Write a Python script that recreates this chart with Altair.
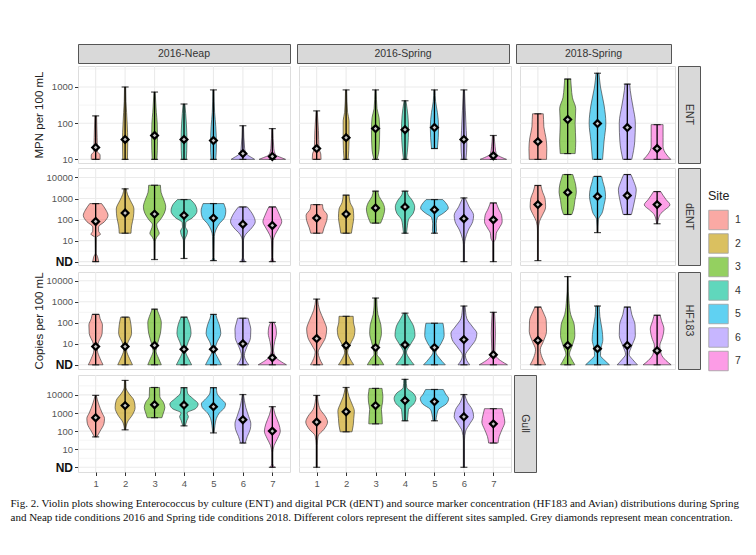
import altair as alt
import pandas as pd

FONT = "Liberation Sans"
PERIODS = ["2016-Neap", "2016-Spring", "2018-Spring"]
MARKERS = ["ENT", "dENT", "HF183", "Gull"]
SITES_2016 = ["1", "2", "3", "4", "5", "6", "7"]
SITES_2018 = ["1", "3", "5", "6", "7"]
SITE_COLORS = ["#F8766D", "#C49A00", "#53B400", "#00C094", "#00B6EB", "#A58AFF", "#FB61D7"]

# y values are log10(concentration); 0 = ND (not detected)
ENT_TICKS = [1, 2, 3]
COPIES_TICKS = [0, 1, 2, 3, 4]

# Violin outlines: (log10 concentration, half width in site slots)
ENT_NEAP = [
    [(1.0, 0.15), (1.12, 0.15), (1.22, 0.06), (1.6, 0.05), (2.2, 0.03)],
    [(1.0, 0.08), (1.5, 0.09), (2.0, 0.07), (2.3, 0.05), (2.6, 0.03), (3.0, 0.02)],
    [(1.0, 0.08), (1.5, 0.1), (2.0, 0.09), (2.3, 0.06), (2.86, 0.02)],
    [(1.0, 0.08), (1.5, 0.1), (2.0, 0.08), (2.53, 0.03)],
    [(1.0, 0.08), (1.4, 0.1), (1.9, 0.08), (2.3, 0.04), (2.92, 0.02)],
    [(1.0, 0.4), (1.05, 0.3), (1.15, 0.12), (1.3, 0.06), (1.93, 0.02)],
    [(1.0, 0.45), (1.05, 0.3), (1.12, 0.12), (1.3, 0.05), (1.85, 0.02)],
]
ENT_NEAP_MEAN = [1.33, 1.55, 1.66, 1.55, 1.52, 1.16, 1.08]

ENT_SPRING16 = [
    [(1.0, 0.15), (1.15, 0.14), (1.3, 0.08), (1.8, 0.06), (2.34, 0.02)],
    [(1.0, 0.07), (1.5, 0.1), (2.07, 0.1), (2.3, 0.05), (2.92, 0.02)],
    [(1.0, 0.05), (1.27, 0.12), (1.8, 0.14), (2.15, 0.12), (2.4, 0.05), (2.92, 0.02)],
    [(1.0, 0.05), (1.4, 0.1), (1.8, 0.12), (2.2, 0.1), (2.62, 0.03)],
    [(1.3, 0.1), (1.6, 0.13), (1.9, 0.14), (2.3, 0.1), (2.6, 0.04), (2.92, 0.02)],
    [(1.0, 0.07), (1.4, 0.1), (1.8, 0.08), (2.34, 0.05), (2.92, 0.02)],
    [(1.0, 0.45), (1.05, 0.3), (1.15, 0.1), (1.35, 0.06), (1.66, 0.03)],
]
ENT_SPRING16_MEAN = [1.3, 1.6, 1.85, 1.82, 1.88, 1.55, 1.1]

ENT_SPRING18 = [
    [(1.0, 0.29), (1.3, 0.3), (1.6, 0.27), (1.9, 0.2), (2.1, 0.19), (2.26, 0.18)],
    [(1.16, 0.25), (1.5, 0.27), (2.0, 0.25), (2.4, 0.27), (2.7, 0.16), (3.0, 0.12), (3.22, 0.1)],
    [(1.0, 0.17), (1.5, 0.22), (2.0, 0.28), (2.5, 0.22), (3.0, 0.1), (3.38, 0.05)],
    [(1.0, 0.15), (1.5, 0.25), (2.0, 0.27), (2.5, 0.18), (2.9, 0.1), (3.08, 0.08)],
    [(1.0, 0.46), (1.15, 0.3), (1.35, 0.2), (1.6, 0.2), (1.96, 0.2)],
]
ENT_SPRING18_MEAN = [1.49, 2.1, 1.99, 1.88, 1.3]

DENT_NEAP = [
    [(0.0, 0.1), (0.25, 0.06), (0.4, 0.015), (1.15, 0.02), (1.3, 0.16), (1.45, 0.1), (1.65, 0.1),
     (1.9, 0.3), (2.2, 0.42), (2.45, 0.35), (2.76, 0.2)],
    [(1.35, 0.2), (1.7, 0.22), (2.1, 0.28), (2.5, 0.3), (2.9, 0.18), (3.2, 0.08), (3.46, 0.04)],
    [(0.1, 0.015), (0.95, 0.02), (1.15, 0.07), (1.35, 0.16), (1.5, 0.12), (1.75, 0.07), (2.0, 0.2),
     (2.3, 0.33), (2.6, 0.38), (3.0, 0.3), (3.3, 0.22), (3.63, 0.2)],
    [(0.15, 0.015), (1.0, 0.02), (1.3, 0.1), (1.45, 0.12), (1.65, 0.05), (1.85, 0.06), (2.1, 0.3),
     (2.4, 0.44), (2.7, 0.38), (2.95, 0.22)],
    [(0.05, 0.06), (0.2, 0.02), (1.2, 0.03), (1.5, 0.08), (1.8, 0.2), (2.1, 0.38), (2.4, 0.42), (2.76, 0.35)],
    [(0.0, 0.08), (0.2, 0.02), (1.0, 0.02), (1.3, 0.1), (1.6, 0.3), (1.9, 0.42), (2.2, 0.35), (2.6, 0.15)],
    [(0.0, 0.06), (0.2, 0.02), (1.0, 0.03), (1.3, 0.1), (1.6, 0.22), (1.9, 0.32), (2.2, 0.25), (2.6, 0.12)],
]
DENT_NEAP_MEAN = [1.91, 2.31, 2.26, 2.2, 2.07, 1.78, 1.72]

DENT_SPRING16 = [
    [(1.35, 0.2), (1.6, 0.25), (1.95, 0.34), (2.2, 0.36), (2.5, 0.22), (2.71, 0.2)],
    [(1.35, 0.18), (1.7, 0.22), (2.1, 0.26), (2.5, 0.24), (2.8, 0.14), (3.16, 0.1)],
    [(1.83, 0.17), (2.1, 0.25), (2.5, 0.31), (2.8, 0.25), (3.1, 0.12), (3.35, 0.08)],
    [(1.35, 0.05), (1.7, 0.08), (2.0, 0.12), (2.3, 0.28), (2.6, 0.33), (2.9, 0.25), (3.2, 0.1), (3.35, 0.08)],
    [(1.35, 0.05), (1.5, 0.07), (1.8, 0.06), (2.1, 0.1), (2.3, 0.3), (2.55, 0.47), (2.8, 0.38), (2.95, 0.28)],
    [(0.0, 0.02), (0.8, 0.02), (1.1, 0.05), (1.5, 0.15), (1.9, 0.3), (2.2, 0.33), (2.6, 0.18), (3.03, 0.04)],
    [(0.0, 0.02), (0.9, 0.02), (1.1, 0.08), (1.35, 0.1), (1.6, 0.2), (1.9, 0.3), (2.2, 0.28), (2.5, 0.18),
     (2.79, 0.1)],
]
DENT_SPRING16_MEAN = [2.07, 2.26, 2.55, 2.6, 2.47, 2.04, 1.99]

DENT_SPRING18 = [
    [(0.05, 0.015), (1.5, 0.015), (1.9, 0.05), (2.2, 0.15), (2.6, 0.26), (3.0, 0.24), (3.3, 0.16), (3.62, 0.1)],
    [(2.24, 0.14), (2.5, 0.2), (2.9, 0.24), (3.3, 0.29), (3.7, 0.26), (4.0, 0.2), (4.14, 0.17)],
    [(1.38, 0.015), (2.0, 0.03), (2.3, 0.15), (2.7, 0.22), (3.1, 0.27), (3.5, 0.24), (3.8, 0.18), (4.05, 0.14)],
    [(2.24, 0.14), (2.6, 0.2), (3.0, 0.26), (3.4, 0.3), (3.8, 0.22), (4.14, 0.12)],
    [(1.8, 0.015), (2.24, 0.1), (2.45, 0.25), (2.7, 0.43), (2.95, 0.3), (3.15, 0.2), (3.33, 0.12)],
]
DENT_SPRING18_MEAN = [2.71, 3.29, 3.1, 3.14, 2.71]

HF_NEAP = [
    [(0.0, 0.25), (0.3, 0.15), (0.7, 0.06), (1.0, 0.08), (1.5, 0.22), (1.9, 0.23), (2.2, 0.15), (2.4, 0.12)],
    [(0.0, 0.25), (0.3, 0.15), (0.7, 0.05), (1.0, 0.08), (1.5, 0.22), (1.9, 0.2), (2.27, 0.15)],
    [(0.0, 0.23), (0.3, 0.14), (0.65, 0.05), (1.0, 0.1), (1.5, 0.2), (2.0, 0.23), (2.4, 0.15), (2.65, 0.08)],
    [(0.0, 0.26), (0.3, 0.15), (0.65, 0.05), (1.0, 0.12), (1.5, 0.24), (1.9, 0.2), (2.27, 0.1)],
    [(0.0, 0.27), (0.3, 0.16), (0.65, 0.05), (1.0, 0.1), (1.5, 0.25), (1.9, 0.2), (2.2, 0.12), (2.4, 0.08)],
    [(0.0, 0.2), (0.2, 0.1), (0.45, 0.05), (0.8, 0.12), (1.3, 0.26), (1.7, 0.27), (2.0, 0.22), (2.22, 0.18)],
    [(0.0, 0.48), (0.15, 0.3), (0.35, 0.12), (0.7, 0.04), (1.1, 0.08), (1.5, 0.14), (1.8, 0.12), (2.02, 0.05)],
]
HF_NEAP_MEAN = [0.87, 0.87, 0.92, 0.74, 0.74, 1.0, 0.34]

HF_SPRING16 = [
    [(0.0, 0.21), (0.3, 0.1), (0.6, 0.05), (0.9, 0.15), (1.3, 0.3), (1.7, 0.34), (2.1, 0.25), (2.6, 0.1),
     (3.13, 0.03)],
    [(0.0, 0.26), (0.3, 0.13), (0.6, 0.05), (1.0, 0.15), (1.4, 0.28), (1.7, 0.3), (2.0, 0.25), (2.31, 0.24)],
    [(0.0, 0.28), (0.3, 0.15), (0.5, 0.05), (1.0, 0.12), (1.5, 0.2), (1.9, 0.18), (2.4, 0.08), (2.8, 0.05),
     (3.18, 0.04)],
    [(0.0, 0.31), (0.3, 0.15), (0.6, 0.05), (1.0, 0.2), (1.4, 0.34), (1.8, 0.3), (2.2, 0.15), (2.46, 0.05)],
    [(0.0, 0.37), (0.3, 0.18), (0.6, 0.05), (1.0, 0.22), (1.4, 0.33), (1.7, 0.32), (1.98, 0.29)],
    [(0.0, 0.2), (0.2, 0.1), (0.45, 0.05), (0.8, 0.2), (1.2, 0.4), (1.5, 0.44), (1.8, 0.3), (2.2, 0.1),
     (2.5, 0.06), (2.8, 0.04)],
    [(0.0, 0.48), (0.15, 0.3), (0.35, 0.12), (0.6, 0.05), (1.0, 0.06), (1.5, 0.07), (2.0, 0.06), (2.5, 0.04)],
]
HF_SPRING16_MEAN = [1.25, 0.92, 0.82, 0.95, 0.82, 1.2, 0.48]

HF_SPRING18 = [
    [(0.0, 0.26), (0.35, 0.14), (0.72, 0.08), (1.1, 0.18), (1.6, 0.29), (2.1, 0.28), (2.5, 0.18), (2.75, 0.1)],
    [(0.0, 0.24), (0.3, 0.12), (0.5, 0.06), (0.9, 0.15), (1.4, 0.24), (1.9, 0.22), (2.4, 0.1), (3.08, 0.04),
     (3.5, 0.02), (4.2, 0.01)],
    [(0.0, 0.4), (0.2, 0.25), (0.45, 0.1), (0.8, 0.12), (1.2, 0.18), (1.7, 0.15), (2.3, 0.08), (2.8, 0.06)],
    [(0.0, 0.34), (0.25, 0.18), (0.5, 0.06), (0.9, 0.15), (1.4, 0.27), (1.9, 0.26), (2.4, 0.15), (2.75, 0.1)],
    [(0.0, 0.47), (0.2, 0.3), (0.5, 0.14), (0.9, 0.09), (1.3, 0.18), (1.7, 0.23), (2.1, 0.15), (2.36, 0.1)],
]
HF_SPRING18_MEAN = [1.16, 0.92, 0.77, 0.92, 0.67]

GULL_NEAP = [
    [(1.68, 0.04), (2.0, 0.15), (2.4, 0.28), (2.7, 0.3), (3.0, 0.22), (3.5, 0.1), (3.97, 0.02)],
    [(2.07, 0.02), (2.5, 0.08), (2.9, 0.25), (3.3, 0.34), (3.7, 0.3), (4.1, 0.12), (4.4, 0.03), (4.8, 0.02)],
    [(2.74, 0.25), (3.0, 0.3), (3.3, 0.35), (3.6, 0.3), (3.9, 0.18), (4.41, 0.17)],
    [(2.29, 0.04), (2.6, 0.1), (2.8, 0.15), (3.0, 0.1), (3.25, 0.4), (3.5, 0.48), (3.8, 0.3), (4.1, 0.12),
     (4.4, 0.1)],
    [(1.9, 0.02), (2.3, 0.05), (2.7, 0.1), (3.0, 0.2), (3.3, 0.38), (3.5, 0.41), (3.8, 0.25), (4.1, 0.12),
     (4.4, 0.1)],
    [(1.34, 0.08), (1.7, 0.15), (2.1, 0.25), (2.4, 0.27), (2.8, 0.2), (3.3, 0.1), (3.7, 0.05), (4.02, 0.02)],
    [(0.0, 0.07), (0.2, 0.02), (0.8, 0.02), (1.2, 0.06), (1.6, 0.18), (2.0, 0.27), (2.4, 0.22), (2.9, 0.1),
     (3.35, 0.03)],
]
GULL_NEAP_MEAN = [2.74, 3.41, 3.46, 3.44, 3.35, 2.63, 2.0]

GULL_SPRING16 = [
    [(0.0, 0.02), (1.2, 0.02), (1.73, 0.05), (2.1, 0.25), (2.5, 0.37), (2.8, 0.3), (3.2, 0.12), (3.6, 0.05),
     (3.97, 0.03)],
    [(1.96, 0.2), (2.3, 0.24), (2.7, 0.26), (3.1, 0.28), (3.5, 0.2), (3.9, 0.1), (4.41, 0.03)],
    [(2.4, 0.23), (2.8, 0.22), (3.2, 0.2), (3.6, 0.24), (3.9, 0.25), (4.2, 0.23), (4.36, 0.22)],
    [(2.57, 0.08), (2.9, 0.1), (3.2, 0.12), (3.5, 0.3), (3.8, 0.37), (4.1, 0.28), (4.4, 0.06), (4.86, 0.04)],
    [(2.57, 0.05), (2.9, 0.08), (3.2, 0.14), (3.5, 0.4), (3.8, 0.48), (4.05, 0.38), (4.3, 0.3)],
    [(0.0, 0.02), (1.5, 0.02), (2.0, 0.06), (2.4, 0.2), (2.8, 0.33), (3.2, 0.28), (3.6, 0.12), (4.02, 0.03)],
    [(1.34, 0.16), (1.7, 0.2), (2.1, 0.3), (2.5, 0.39), (2.9, 0.35), (3.24, 0.3)],
]
GULL_SPRING16_MEAN = [2.5, 3.07, 3.41, 3.69, 3.63, 2.79, 2.4]

CAPTION = [
    "Fig. 2. Violin plots showing Enterococcus by culture (ENT) and digital PCR (dENT) and source marker "
    "concentration (HF183 and Avian) distributions during Spring",
    "and Neap tide conditions 2016 and Spring tide conditions 2018. Different colors represent the different "
    "sites sampled. Grey diamonds represent mean concentration.",
]

# ---- layout / style ----
Y_DOMAIN = {"ENT": [0.9, 3.58], "dENT": [-0.16, 4.45], "HF183": [-0.2, 4.42], "Gull": [-0.26, 5.1]}
PANEL_H = 97
W7 = 212
W5 = 155
STRIP_W = 22
AXIS_EXT = 30
GRID_MAJOR = "#EBEBEB"
BORDER = "#555555"

LEGEND = alt.Legend(title="Site", orient="none", legendX=630, legendY=146, symbolType="square",
                    symbolSize=380, symbolStrokeColor="#666666", symbolStrokeWidth=0.8,
                    symbolOpacity=0.62, labelFontSize=10.5, titleFontSize=12.5,
                    titleFontWeight="normal", rowPadding=0.5, labelOffset=6, titlePadding=7,
                    labelFont=FONT, titleFont=FONT, labelColor="#333333", titleColor="#222222")

COLOR = alt.Color("site:N", scale=alt.Scale(domain=SITES_2016, range=SITE_COLORS), legend=LEGEND)


def y_axis(marker, title, visible):
    ticks = ENT_TICKS if marker == "ENT" else COPIES_TICKS
    return alt.Axis(
        values=ticks,
        labelExpr="datum.value == 0 ? 'ND' : format(pow(10, datum.value), 'd')",
        title=title, titleOpacity=1 if visible else 0, titleFontSize=11.5, titleFontWeight="normal",
        titleColor="#222222", titleFont=FONT, titlePadding=4,
        grid=False, domain=False, tickSize=3.5, tickColor="#333333", tickWidth=1,
        labelFont=FONT, labelPadding=2,
        labelColor={"condition": {"test": "datum.value == 0", "value": "#111111"}, "value": "#555555"},
        labelFontSize={"condition": {"test": "datum.value == 0", "value": 12}, "value": 9.5},
        labelFontWeight={"condition": {"test": "datum.value == 0", "value": "bold"}, "value": "normal"},
        minExtent=AXIS_EXT, maxExtent=AXIS_EXT,
    )


def panel(marker, profiles, means, sites, width, y_ax, bottom):
    n = len(sites)
    vrows = []
    for i, prof in enumerate(profiles):
        for lv, hw in prof:
            vrows.append({"site": sites[i], "pos": i + 1, "lv": lv, "hw": hw})
    vdf = pd.DataFrame(vrows)
    sdf = pd.DataFrame({
        "site": sites,
        "pos": list(range(1, n + 1)),
        "ymin": [p[0][0] for p in profiles],
        "ymax": [p[-1][0] for p in profiles],
        "mean": means,
    })
    ticks = ENT_TICKS if marker == "ENT" else COPIES_TICKS
    lo, hi = Y_DOMAIN[marker]
    minors = [t + 0.5 for t in ticks if lo <= t + 0.5 <= hi]
    gdf = pd.DataFrame({"g": ticks + minors, "kind": ["major"] * len(ticks) + ["minor"] * len(minors)})

    xscale = alt.Scale(domain=[0.4, n + 0.6], nice=False, zero=False)
    yscale = alt.Scale(domain=Y_DOMAIN[marker], nice=False, zero=False)
    xaxis = None
    if bottom:
        xaxis = alt.Axis(values=list(range(1, n + 1)), format="d", title=None, grid=False, domain=False,
                         tickSize=3.5, tickColor="#333333", labelColor="#555555", labelFontSize=9.5,
                         labelFont=FONT, labelPadding=3)

    def X(f):
        return alt.X(f, type="quantitative", scale=xscale, axis=xaxis)

    def Y(f):
        return alt.Y(f, type="quantitative", scale=yscale, axis=y_ax)

    ygrid = alt.Chart(gdf).mark_rule().encode(
        y=Y("g"),
        color=alt.value(GRID_MAJOR),
        strokeWidth=alt.condition("datum.kind == 'major'", alt.value(1.1), alt.value(0.55)),
    )
    xgrid = alt.Chart(sdf).mark_rule(color=GRID_MAJOR, strokeWidth=1.1).encode(x=X("pos"))
    violins = alt.Chart(vdf).transform_calculate(
        left="datum.pos - datum.hw", right="datum.pos + datum.hw"
    ).mark_area(orient="horizontal", interpolate="monotone", fillOpacity=0.6,
                stroke="#333333", strokeWidth=0.7, strokeOpacity=0.9).encode(
        y=Y("lv"), x=X("left"), x2="right:Q", color=COLOR, detail="site:N"
    )
    rules = alt.Chart(sdf).mark_rule(color="black", strokeWidth=1.3).encode(
        x=X("pos"), y=Y("ymin"), y2="ymax:Q")
    caps = alt.Chart(sdf).transform_fold(["ymin", "ymax"], as_=["k", "yv"]).mark_tick(
        orient="horizontal", color="black", size=7, thickness=1.2).encode(x=X("pos"), y=Y("yv"))
    mean_pts = alt.Chart(sdf).mark_point(shape="diamond", filled=True, fill="#C4C4C4", stroke="black",
                                         strokeWidth=2.2, size=46, opacity=1).encode(
        x=X("pos"), y=Y("mean"))
    return alt.layer(ygrid, xgrid, violins, rules, caps, mean_pts).properties(width=width, height=PANEL_H)


def row_strip(label):
    return alt.Chart(pd.DataFrame({"t": [label]})).mark_text(
        angle=90, fontSize=10.5, color="#333333", font=FONT).encode(text="t:N").properties(
        width=STRIP_W, height=PANEL_H, view=alt.ViewBackground(fill="#D9D9D9", stroke=BORDER))


def col_header(label, width, with_axis):
    df = pd.DataFrame({"t": [label], "c": [0.5]})
    base = alt.Chart(df).mark_text(fontSize=10.5, color="#333333", font=FONT)
    if with_axis:
        # invisible one-letter axis title keeps the header aligned with the panels' y axes
        ch = base.encode(text="t:N", y=alt.Y("c:Q", scale=alt.Scale(domain=[0, 1]), axis=alt.Axis(
            title="M", titleOpacity=0, titleFontSize=11.5, titlePadding=4, titleFont=FONT,
            labels=False, ticks=False, domain=False, grid=False, minExtent=AXIS_EXT, maxExtent=AXIS_EXT)))
    else:
        ch = base.encode(text="t:N")
    return ch.properties(width=width, height=19, view=alt.ViewBackground(fill="#D9D9D9", stroke=BORDER))


# ---- rows ----
headers = alt.hconcat(
    col_header(PERIODS[0], W7, True), col_header(PERIODS[1], W7, False), col_header(PERIODS[2], W5, False),
    spacing=5)

row1 = alt.hconcat(
    panel("ENT", ENT_NEAP, ENT_NEAP_MEAN, SITES_2016, W7, y_axis("ENT", "MPN per 100 mL", True), False),
    panel("ENT", ENT_SPRING16, ENT_SPRING16_MEAN, SITES_2016, W7, None, False),
    alt.hconcat(panel("ENT", ENT_SPRING18, ENT_SPRING18_MEAN, SITES_2018, W5, None, False),
                row_strip("ENT"), spacing=0),
    spacing=5)

row2 = alt.hconcat(
    panel("dENT", DENT_NEAP, DENT_NEAP_MEAN, SITES_2016, W7, y_axis("dENT", "Copies per 100 mL", False), False),
    panel("dENT", DENT_SPRING16, DENT_SPRING16_MEAN, SITES_2016, W7, None, False),
    alt.hconcat(panel("dENT", DENT_SPRING18, DENT_SPRING18_MEAN, SITES_2018, W5, None, False),
                row_strip("dENT"), spacing=0),
    spacing=5)

row3 = alt.hconcat(
    panel("HF183", HF_NEAP, HF_NEAP_MEAN, SITES_2016, W7, y_axis("HF183", "Copies per 100 mL", True), False),
    panel("HF183", HF_SPRING16, HF_SPRING16_MEAN, SITES_2016, W7, None, False),
    alt.hconcat(panel("HF183", HF_SPRING18, HF_SPRING18_MEAN, SITES_2018, W5, None, False),
                row_strip("HF183"), spacing=0),
    spacing=5)

row4 = alt.hconcat(
    panel("Gull", GULL_NEAP, GULL_NEAP_MEAN, SITES_2016, W7, y_axis("Gull", "Copies per 100 mL", False), True),
    alt.hconcat(panel("Gull", GULL_SPRING16, GULL_SPRING16_MEAN, SITES_2016, W7, None, True),
                row_strip("Gull"), spacing=0),
    spacing=5)

top = alt.vconcat(headers, row1, spacing=0)

chart = alt.vconcat(top, row2, row3, row4, spacing=1).resolve_scale(color="shared").properties(
    padding={"left": 2, "top": 35, "right": 2, "bottom": 2},
    title=alt.TitleParams(text=CAPTION, orient="bottom", anchor="start", dx=-22, offset=9,
                          font="Liberation Serif", fontSize=11, fontWeight="normal", color="#111111",
                          lineHeight=14),
).configure_view(stroke=BORDER, strokeWidth=1).configure(font=FONT)

chart.save("out.html", embed_options={"renderer": "svg", "actions": False})
